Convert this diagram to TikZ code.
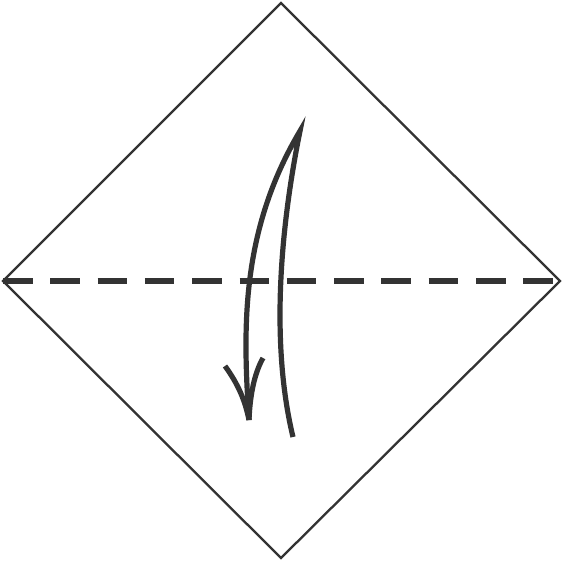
\documentclass[tikz,border=0pt]{standalone}
\usepackage{tikz}
\definecolor{ink}{HTML}{333333}
\begin{document}
\begin{tikzpicture}[x=1pt, y=-1pt, line join=miter, color=ink]
	\def\w{562} \def\c{281}
	\useasboundingbox[fill=white] (0,0) rectangle (\w,\w);
	% the square standing on a corner
	\draw[line width=2.3pt] (\c,3)--(560,\c)--(\c,558)--(3,\c)--cycle;
	% valley fold
	\draw[line width=5.2pt, dash pattern=on 29.5pt off 17.8pt] (3,\c)--(553,\c);
	% fold arrow
	\draw[line width=5.2pt, miter limit=20] (249,420) .. controls (243,330) and (240,232) .. (300,131)
		.. controls (278,240) and (272,350) .. (293,437);
	\draw[line width=5.2pt] (225,366) .. controls (238,384) and (245,400) .. (249,420);
	\draw[line width=5.2pt] (263,358) .. controls (254,374) and (250,396) .. (249,420);
\end{tikzpicture}
\end{document}
